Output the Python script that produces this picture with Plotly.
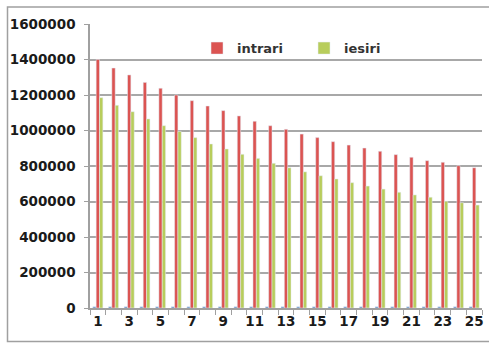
import plotly.graph_objects as go

years = list(range(1, 26))
intrari = [1400000, 1352000, 1313000, 1271000, 1238000, 1200000, 1168000, 1138000, 1112000, 1082000,
           1052000, 1027000, 1007000, 980000, 960000, 937000, 918000, 901000, 883000, 864000,
           849000, 830000, 821000, 802000, 790000]
iesiri = [1185000, 1142000, 1106000, 1065000, 1027000, 995000, 960000, 924000, 896000, 866000,
          843000, 815000, 790000, 767000, 745000, 727000, 706000, 687000, 670000, 652000,
          637000, 624000, 601000, 593000, 580000]
an = [7000] * 25
tick_vals = [1, 3, 5, 7, 9, 11, 13, 15, 17, 19, 21, 23, 25]

RED = "#DB5452"
GREEN = "#B8CD5C"
BLUE = "#4F81BD"
FONT = "DejaVu Sans"

fig = go.Figure()
fig.add_trace(go.Bar(x=years, y=an, marker_color=BLUE, showlegend=False, name="an"))
fig.add_trace(go.Bar(x=years, y=intrari, marker_color=RED, name="intrari"))
fig.add_trace(go.Bar(x=years, y=iesiri, marker_color=GREEN, name="iesiri"))

fig.update_layout(
    width=489, height=343,
    margin=dict(l=90, r=7, t=24, b=35),
    paper_bgcolor="white", plot_bgcolor="white",
    barmode="group", bargap=0.36, bargroupgap=0,
    font=dict(family=FONT, size=13, color="#222222"),
    legend=dict(orientation="h", x=0.273, y=0.915, xanchor="left", yanchor="middle",
                bgcolor="rgba(0,0,0,0)",
                font=dict(family=FONT, size=13, color="#333333", weight="bold"),
                itemwidth=30, entrywidth=62, entrywidthmode="pixels"),
    xaxis=dict(range=[0.5, 25.5], tickmode="array", tickvals=tick_vals, automargin=False,
               ticks="", showgrid=False, showline=True, linecolor="#A0A0A0", linewidth=1.5,
               tickfont=dict(family=FONT, size=13.5, color="#1A1A1A", weight="bold"),
               minor=dict(tick0=0.5, dtick=1, ticks="outside", ticklen=5, tickcolor="#A0A0A0",
                          showgrid=False),
               zeroline=False),
    yaxis=dict(range=[0, 1600000], dtick=200000, tickformat="d", automargin=False,
               showgrid=True, gridcolor="#A8A8A8", gridwidth=1.5,
               showline=True, linecolor="#A0A0A0", linewidth=1.5,
               ticks="outside", ticklen=4, tickcolor="#A0A0A0", ticklabelstandoff=6,
               tickfont=dict(family=FONT, size=13.5, color="#1A1A1A", weight="bold"),
               zeroline=False),
    shapes=[dict(type="rect", xref="paper", yref="paper",
                 x0=(7.5 - 90) / 392, x1=(495 - 90) / 392,
                 y0=(308 - 341.5) / 284, y1=(308 - 7) / 284,
                 line=dict(color="#A0A0A0", width=1.5), layer="below")],
)

fig.write_html("out.html", config={"displayModeBar": False},
               post_script="document.body.style.margin='0';document.body.style.overflow='hidden';")
